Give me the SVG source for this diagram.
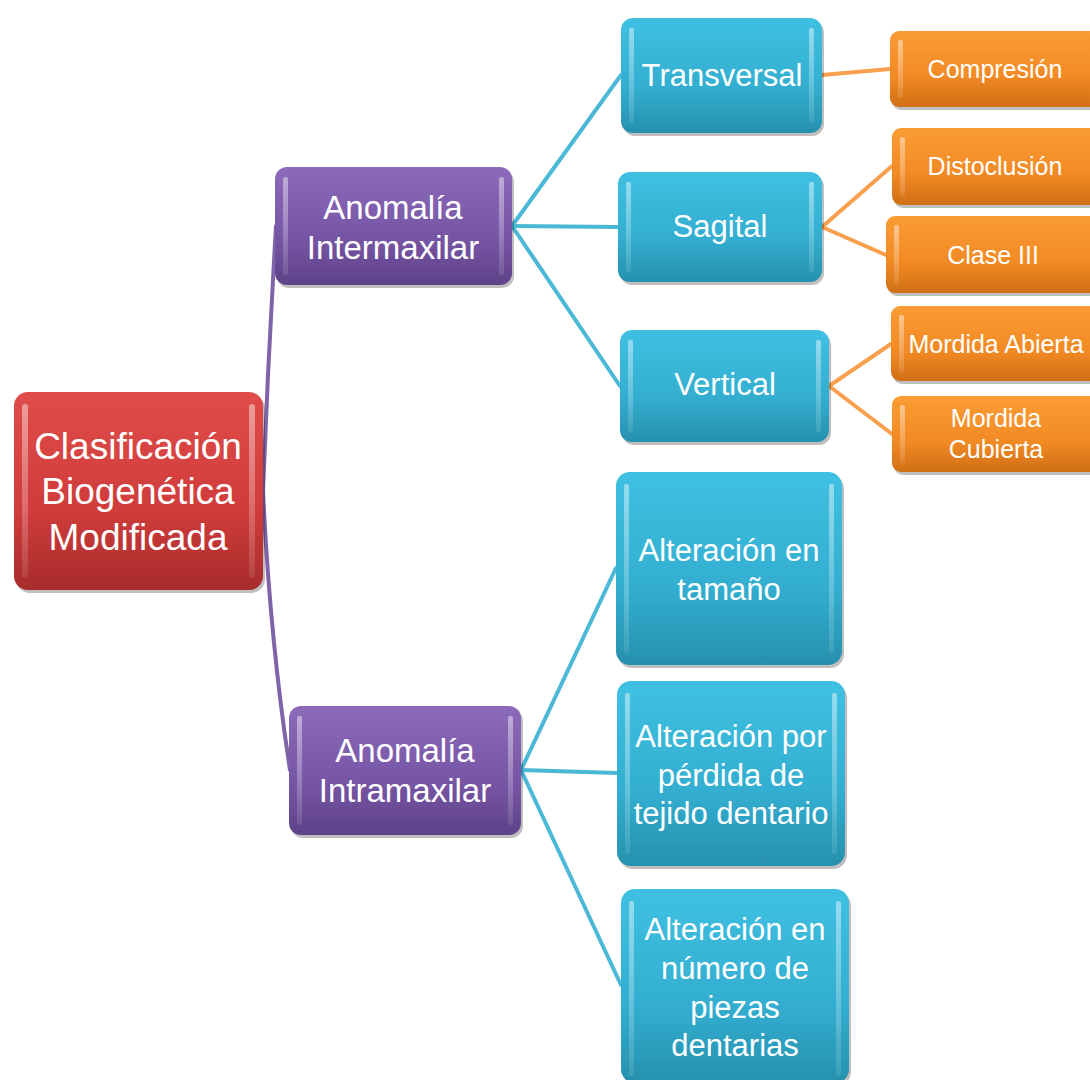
<svg xmlns="http://www.w3.org/2000/svg" width="1090" height="1080" viewBox="0 0 1090 1080">
<defs>
<linearGradient id="gRed" x1="0" y1="0" x2="0" y2="1"><stop offset="0" stop-color="#e04c49"/><stop offset="0.6" stop-color="#cf3c3b"/><stop offset="1" stop-color="#a82c2c"/></linearGradient>
<linearGradient id="gPur" x1="0" y1="0" x2="0" y2="1"><stop offset="0" stop-color="#8c6bbb"/><stop offset="0.6" stop-color="#7755a5"/><stop offset="1" stop-color="#5f4288"/></linearGradient>
<linearGradient id="gBlu" x1="0" y1="0" x2="0" y2="1"><stop offset="0" stop-color="#3fc0e2"/><stop offset="0.6" stop-color="#33aed0"/><stop offset="1" stop-color="#2590ad"/></linearGradient>
<linearGradient id="gOra" x1="0" y1="0" x2="0" y2="1"><stop offset="0" stop-color="#fb9c34"/><stop offset="0.6" stop-color="#f28a24"/><stop offset="1" stop-color="#d06f15"/></linearGradient>
<linearGradient id="gHi" x1="0" y1="0" x2="0" y2="1"><stop offset="0" stop-color="#ffffff" stop-opacity="0.45"/><stop offset="1" stop-color="#ffffff" stop-opacity="0.1"/></linearGradient>
</defs>
<style>
.t{font-family:"Liberation Sans",Arial,sans-serif;fill:#ffffff;text-anchor:middle}
.big{font-size:37px}
.pur{font-size:33px}
.mid{font-size:31px}
.sm{font-size:25px}
.sh{fill:#000000;opacity:0.25}
.hi{fill:url(#gHi)}
.c{fill:none;stroke-width:4;stroke-linecap:round}
.cp{stroke:#8064a8}
.cb{stroke:#4ab8d6}
.co{stroke:#f9a04e}
</style>
<g id="connectors">
<path class="c cp" d="M263,491 Q268,360 276,226"/>
<path class="c cp" d="M263,491 Q270,640 290,770"/>
<path class="c cb" d="M512,226 L621,75"/>
<path class="c cb" d="M512,226 L618,227"/>
<path class="c cb" d="M512,226 L620,386"/>
<path class="c cb" d="M521,770 L616,568"/>
<path class="c cb" d="M521,770 L617,773"/>
<path class="c cb" d="M521,770 L621,985"/>
<path class="c co" d="M822,75 L890,69"/>
<path class="c co" d="M822,227 L892,166"/>
<path class="c co" d="M822,227 L886,255"/>
<path class="c co" d="M829,386 L891,344"/>
<path class="c co" d="M829,386 L892,434"/>
</g>
<g id="root">
<rect class="sh" x="16" y="395" width="249" height="198" rx="14"/>
<rect x="14" y="392" width="249" height="198" rx="14" fill="url(#gRed)"/>
<rect class="hi" x="22" y="404" width="6" height="174" rx="3"/>
<rect class="hi" x="249" y="404" width="6" height="174" rx="3"/>
<text class="t big" x="138" y="459">Clasificación</text>
<text class="t big" x="138" y="504">Biogenética</text>
<text class="t big" x="138" y="550">Modificada</text>
</g>
<g id="anomalia-inter">
<rect class="sh" x="277" y="170" width="237" height="118" rx="12"/>
<rect x="275" y="167" width="237" height="118" rx="12" fill="url(#gPur)"/>
<rect class="hi" x="283" y="177" width="5" height="98" rx="2"/>
<rect class="hi" x="499" y="177" width="5" height="98" rx="2"/>
<text class="t pur" x="393" y="219">Anomalía</text>
<text class="t pur" x="393" y="259">Intermaxilar</text>
</g>
<g id="anomalia-intra">
<rect class="sh" x="291" y="709" width="232" height="129" rx="12"/>
<rect x="289" y="706" width="232" height="129" rx="12" fill="url(#gPur)"/>
<rect class="hi" x="297" y="716" width="5" height="109" rx="2"/>
<rect class="hi" x="508" y="716" width="5" height="109" rx="2"/>
<text class="t pur" x="405" y="762">Anomalía</text>
<text class="t pur" x="405" y="802">Intramaxilar</text>
</g>
<g id="transversal">
<rect class="sh" x="623" y="21" width="201" height="115" rx="12"/>
<rect x="621" y="18" width="201" height="115" rx="12" fill="url(#gBlu)"/>
<rect class="hi" x="629" y="28" width="5" height="95" rx="2"/>
<rect class="hi" x="809" y="28" width="5" height="95" rx="2"/>
<text class="t mid" x="722" y="86">Transversal</text>
</g>
<g id="sagital">
<rect class="sh" x="620" y="175" width="204" height="110" rx="12"/>
<rect x="618" y="172" width="204" height="110" rx="12" fill="url(#gBlu)"/>
<rect class="hi" x="626" y="182" width="5" height="90" rx="2"/>
<rect class="hi" x="809" y="182" width="5" height="90" rx="2"/>
<text class="t mid" x="720" y="237">Sagital</text>
</g>
<g id="vertical">
<rect class="sh" x="622" y="333" width="209" height="112" rx="12"/>
<rect x="620" y="330" width="209" height="112" rx="12" fill="url(#gBlu)"/>
<rect class="hi" x="628" y="340" width="5" height="92" rx="2"/>
<rect class="hi" x="816" y="340" width="5" height="92" rx="2"/>
<text class="t mid" x="725" y="395">Vertical</text>
</g>
<g id="alteracion-tamano">
<rect class="sh" x="618" y="475" width="226" height="193" rx="14"/>
<rect x="616" y="472" width="226" height="193" rx="14" fill="url(#gBlu)"/>
<rect class="hi" x="624" y="484" width="5" height="169" rx="2"/>
<rect class="hi" x="829" y="484" width="5" height="169" rx="2"/>
<text class="t mid" x="729" y="561">Alteración en</text>
<text class="t mid" x="729" y="600">tamaño</text>
</g>
<g id="alteracion-perdida">
<rect class="sh" x="619" y="684" width="228" height="185" rx="14"/>
<rect x="617" y="681" width="228" height="185" rx="14" fill="url(#gBlu)"/>
<rect class="hi" x="625" y="693" width="5" height="161" rx="2"/>
<rect class="hi" x="832" y="693" width="5" height="161" rx="2"/>
<text class="t mid" x="731" y="747">Alteración por</text>
<text class="t mid" x="731" y="786">pérdida de</text>
<text class="t mid" x="731" y="824">tejido dentario</text>
</g>
<g id="alteracion-numero">
<rect class="sh" x="623" y="892" width="228" height="194" rx="14"/>
<rect x="621" y="889" width="228" height="194" rx="14" fill="url(#gBlu)"/>
<rect class="hi" x="629" y="901" width="5" height="175" rx="2"/>
<rect class="hi" x="836" y="901" width="5" height="175" rx="2"/>
<text class="t mid" x="735" y="940">Alteración en</text>
<text class="t mid" x="735" y="979">número de</text>
<text class="t mid" x="735" y="1018">piezas</text>
<text class="t mid" x="735" y="1056">dentarias</text>
</g>
<g id="compresion">
<rect class="sh" x="892" y="34" width="210" height="76" rx="9"/>
<rect x="890" y="31" width="210" height="76" rx="9" fill="url(#gOra)"/>
<rect class="hi" x="898" y="40" width="5" height="58" rx="2"/>
<text class="t sm" x="995" y="78">Compresión</text>
</g>
<g id="distoclusion">
<rect class="sh" x="894" y="131" width="210" height="77" rx="9"/>
<rect x="892" y="128" width="210" height="77" rx="9" fill="url(#gOra)"/>
<rect class="hi" x="900" y="137" width="5" height="59" rx="2"/>
<text class="t sm" x="995" y="175">Distoclusión</text>
</g>
<g id="clase-iii">
<rect class="sh" x="888" y="219" width="214" height="77" rx="9"/>
<rect x="886" y="216" width="214" height="77" rx="9" fill="url(#gOra)"/>
<rect class="hi" x="894" y="225" width="5" height="59" rx="2"/>
<text class="t sm" x="993" y="264">Clase III</text>
</g>
<g id="mordida-abierta">
<rect class="sh" x="893" y="309" width="210" height="75" rx="9"/>
<rect x="891" y="306" width="210" height="75" rx="9" fill="url(#gOra)"/>
<rect class="hi" x="899" y="315" width="5" height="57" rx="2"/>
<text class="t sm" x="996" y="353">Mordida Abierta</text>
</g>
<g id="mordida-cubierta">
<rect class="sh" x="894" y="399" width="210" height="76" rx="9"/>
<rect x="892" y="396" width="210" height="76" rx="9" fill="url(#gOra)"/>
<rect class="hi" x="900" y="405" width="5" height="58" rx="2"/>
<text class="t sm" x="996" y="427">Mordida</text>
<text class="t sm" x="996" y="458">Cubierta</text>
</g>
</svg>
